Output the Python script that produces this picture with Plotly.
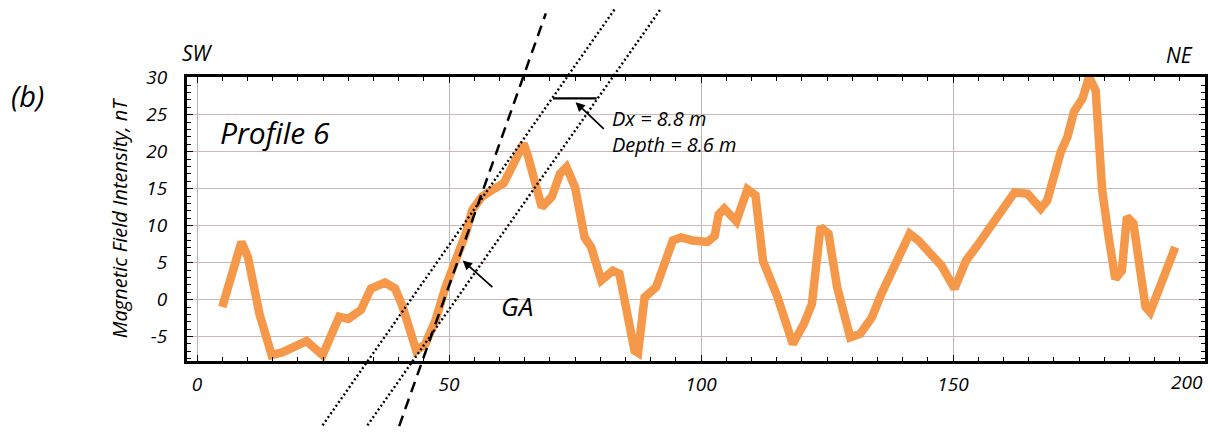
import plotly.graph_objects as go

# ---- data ----
distance = [5.0, 8.8, 10.1, 12.4, 14.8, 17.0, 21.7, 24.9, 28.2, 30.0, 32.5, 34.5, 37.3, 39.3,
            40.8, 43.5, 45.3, 47.3, 49.3, 51.3, 53.3, 54.6, 56.5, 58.5, 60.8, 61.8, 63.4, 64.8,
            65.7, 66.7, 68.4, 70.4, 72.0, 73.3, 75.0, 76.9, 78.2, 80.2, 82.5, 83.8, 86.8, 87.5,
            88.8, 91.1, 92.4, 94.4, 96.0, 98.3, 101.3, 102.7, 103.5, 104.6, 107.0, 109.2, 110.8,
            112.3, 115.1, 118.2, 120.4, 122.0, 123.7, 125.3, 127.0, 129.6, 131.6, 133.9, 135.8,
            138.1, 141.4, 143.1, 146.0, 147.7, 150.3, 152.6, 154.6, 158.5, 162.2, 164.8, 167.4,
            168.7, 171.4, 172.7, 174.0, 175.7, 177.0, 178.3, 179.6, 180.9, 182.2, 183.5, 184.5,
            185.8, 188.2, 189.1, 191.4, 194.1]
intensity = [-1.0, 7.8, 5.7, -2.0, -7.5, -7.1, -5.6, -7.5, -2.3, -2.6, -1.4, 1.5, 2.3, 1.5,
             -1.0, -6.9, -6.0, -2.8, 1.7, 5.3, 8.9, 12.1, 13.9, 14.8, 15.7, 17.0, 19.3, 21.1,
             19.3, 16.6, 12.5, 13.9, 17.0, 17.9, 15.2, 8.4, 7.1, 2.6, 3.9, 3.5, -6.9, -7.2,
             0.3, 1.7, 3.9, 8.0, 8.4, 8.0, 7.8, 8.6, 11.5, 12.3, 10.6, 14.9, 14.1,
             5.2, 0.5, -6.0, -3.3, -0.6, 9.8, 8.9, 1.7, -5.1, -4.6, -2.4, 0.8,
             4.4, 8.9, 8.0, 5.7, 4.6, 1.5, 5.3, 7.1, 10.8, 14.5, 14.3, 12.3,
             13.4, 20.0, 22.0, 25.4, 27.2, 30.1, 28.3, 14.8, 8.4, 2.8, 3.9, 11.2,
             10.3, -1.0, -1.7, 2.6, 7.1]

x_ticks = [0, 50, 100, 150, 200]
x_tick_labels = ["0", "50", "100", "150", "200"]
y_ticks = [-5, 0, 5, 10, 15, 20, 25, 30]
x_range = [-2, 200]
y_range = [-8.3, 30.1]

# interpretation lines (start/end in data units)
dashed_line = [(40.1, -17.1), (69.2, 38.7)]
dotted_lines = [[(24.9, -17.0), (83.0, 39.4)], [(33.8, -17.0), (92.1, 39.4)]]
dx_segment = [(70.6, 27.2), (79.3, 27.2)]

ORANGE = "#F5984A"
FONT = "Open Sans"


def px(x):
    return (x - x_range[0]) / (x_range[1] - x_range[0])


def py(y):
    return (y - y_range[0]) / (y_range[1] - y_range[0])


fig = go.Figure()
fig.add_trace(go.Scatter(x=distance, y=intensity, mode="lines",
                         line=dict(color=ORANGE, width=8.5), showlegend=False,
                         hoverinfo="skip"))

shapes = []
(x0, y0), (x1, y1) = dashed_line
shapes.append(dict(type="line", xref="paper", yref="paper", x0=px(x0), y0=py(y0),
                   x1=px(x1), y1=py(y1), line=dict(color="black", width=2.5, dash="11px,7px")))
for (a0, b0), (a1, b1) in dotted_lines:
    shapes.append(dict(type="line", xref="paper", yref="paper", x0=px(a0), y0=py(b0),
                       x1=px(a1), y1=py(b1), line=dict(color="black", width=2.4, dash="2px,2.6px")))
(s0, t0), (s1, t1) = dx_segment
shapes.append(dict(type="line", xref="x", yref="y", x0=s0, y0=t0, x1=s1, y1=t1,
                   line=dict(color="black", width=2.2)))

it = dict(family=FONT, style="italic", color="black")
# the last tick label sits at the right edge of the page; place it flush right
shown_ticktext = x_tick_labels[:-1] + [""]
annotations = [
    dict(text=x_tick_labels[-1], x=x_ticks[-1], y=-0.02, xref="x", yref="paper",
         xanchor="right", yanchor="top", showarrow=False, font=dict(size=19, **it)),
    dict(text="Profile 6", x=4.1, y=22.6, xref="x", yref="y", xanchor="left", yanchor="middle",
         showarrow=False, font=dict(size=30, **it)),
    dict(text="Dx = 8.8 m<br>Depth = 8.6 m", x=82.0, y=22.7, xref="x", yref="y", xanchor="left",
         yanchor="middle", align="left", showarrow=False, font=dict(size=20, **it)),
    dict(text="GA", x=63.5, y=-0.8, xref="x", yref="y", xanchor="center", yanchor="middle",
         showarrow=False, font=dict(size=26, **it)),
    dict(text="", x=52.7, y=5.3, ax=58.9, ay=1.5, xref="x", yref="y", axref="x", ayref="y",
         showarrow=True, arrowhead=2, arrowsize=1.1, arrowwidth=1.7, arrowcolor="black", standoff=0),
    dict(text="", x=75.1, y=26.7, ax=81.0, ay=22.9, xref="x", yref="y", axref="x", ayref="y",
         showarrow=True, arrowhead=2, arrowsize=1.1, arrowwidth=1.7, arrowcolor="black", standoff=0),
    dict(text="SW", x=(180 - 187) / 1021, y=(361 - 53) / 284, xref="paper", yref="paper",
         xanchor="left", yanchor="middle", showarrow=False, font=dict(size=21, **it)),
    dict(text="NE", x=(1198 - 187) / 1021, y=(361 - 55) / 284, xref="paper", yref="paper",
         xanchor="right", yanchor="middle", showarrow=False, font=dict(size=21, **it)),
    dict(text="(b)", x=(27 - 187) / 1021, y=(361 - 95) / 284, xref="paper", yref="paper",
         xanchor="center", yanchor="middle", showarrow=False, font=dict(size=29, **it)),
]

fig.update_layout(
    width=1214, height=434,
    margin=dict(l=187, r=6, t=77, b=73),
    paper_bgcolor="white", plot_bgcolor="white",
    shapes=shapes, annotations=annotations,
    xaxis=dict(range=x_range, tickvals=x_ticks, ticktext=shown_ticktext,
               showgrid=True, gridcolor="#b8b8b8", gridwidth=1, zeroline=False,
               showline=True, linecolor="black", linewidth=3, mirror="ticks",
               ticks="inside", ticklen=6, tickcolor="black", tickwidth=1,
               minor=dict(dtick=5, tick0=0, ticks="inside", ticklen=4, tickcolor="black",
                          showgrid=False),
               tickfont=dict(size=19, **it), ticklabelstandoff=4),
    yaxis=dict(range=y_range, tickvals=y_ticks, ticktext=[str(v) for v in y_ticks],
               showgrid=True, gridcolor="#cdb7b7", gridwidth=1, zeroline=False,
               showline=True, linecolor="black", linewidth=3, mirror="ticks",
               ticks="inside", ticklen=6, tickcolor="black", tickwidth=1,
               minor=dict(dtick=1, tick0=0, ticks="inside", ticklen=4, tickcolor="black",
                          showgrid=False),
               tickfont=dict(size=19, **it), ticklabelstandoff=13,
               title=dict(text="Magnetic Field Intensity, nT", font=dict(size=20, **it),
                          standoff=14)),
)

fig.write_html("out.html", config={"displayModeBar": False},
               post_script="document.body.style.margin='0';")
